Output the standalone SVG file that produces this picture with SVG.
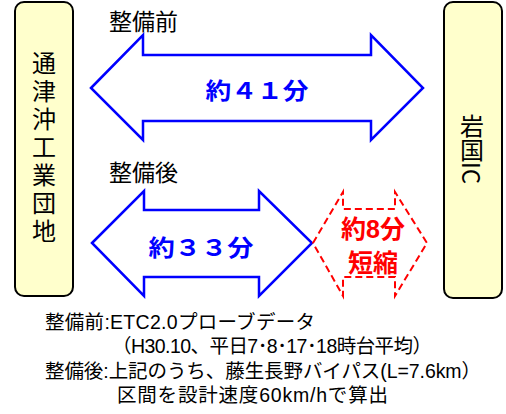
<svg xmlns="http://www.w3.org/2000/svg" width="506" height="414" viewBox="0 0 506 414">
<style>
.box{fill:#FFFFCC;stroke:#000;stroke-width:2}
.vt{font-family:"Noto Sans CJK JP",sans-serif;font-size:24px;fill:#000;writing-mode:vertical-rl;text-anchor:middle}
.arrow{fill:#fff;stroke:#0000FF;stroke-width:2.5;stroke-linejoin:miter}
.dash{fill:none;stroke:#FF0000;stroke-width:2;stroke-dasharray:7,4}
.hd{font-family:"Noto Sans CJK JP",sans-serif;font-size:23px;fill:#000}
.bl{font-family:"Noto Sans CJK JP",sans-serif;font-size:23px;font-weight:bold;fill:#0000FF;text-anchor:middle}
.rd{font-family:"Liberation Sans","Noto Sans CJK JP",sans-serif;font-size:25px;font-weight:bold;fill:#FF0000;text-anchor:middle}
.nt{font-family:"Liberation Sans","Noto Sans CJK JP",sans-serif;font-size:19.5px;fill:#000}
</style>
<g id="node-left">
<rect class="box" x="15" y="2" width="58" height="294" rx="9"/>
<text class="vt" x="44" y="149" letter-spacing="4">通津沖工業団地</text>
</g>
<g id="node-right">
<rect class="box" x="444" y="2" width="58" height="296" rx="9"/>
<text class="vt" x="472" y="149">岩国IC</text>
</g>
<g id="connectors">
<path class="arrow" d="M91,88 L143,35 L143,55 L371,55 L371,35 L423,88 L371,140 L371,121 L143,121 L143,140 Z"/>
<path class="arrow" d="M92,243 L144,191 L144,210 L259,210 L259,191 L312,243 L259,296 L259,277 L144,277 L144,296 Z"/>
<path class="dash" d="M313,243 L343,192 L343,209 L395,209 L395,192 L427,243 L395,296 L395,277 L343,277 L343,296 Z"/>
</g>
<g id="labels">
<text class="hd" x="109" y="30">整備前</text>
<text class="hd" x="109" y="181">整備後</text>
<text class="bl" x="257" y="99" textLength="103" lengthAdjust="spacingAndGlyphs">約４１分</text>
<text class="bl" x="201" y="256" textLength="105" lengthAdjust="spacingAndGlyphs">約３３分</text>
<text class="rd" x="373" y="238">約8分</text>
<text class="rd" x="373" y="272">短縮</text>
</g>
<g id="notes">
<text class="nt" x="45" y="329" textLength="270" lengthAdjust="spacing">整備前:ETC2.0プローブデータ</text>
<text class="nt" x="112" y="353" textLength="320" lengthAdjust="spacing">（H30.10、平日7･8･17･18時台平均）</text>
<text class="nt" x="45" y="378" textLength="436" lengthAdjust="spacing">整備後:上記のうち、藤生長野バイパス(L=7.6km）</text>
<text class="nt" x="117" y="402" textLength="271" lengthAdjust="spacing">区間を設計速度60km/hで算出</text>
</g>
</svg>
